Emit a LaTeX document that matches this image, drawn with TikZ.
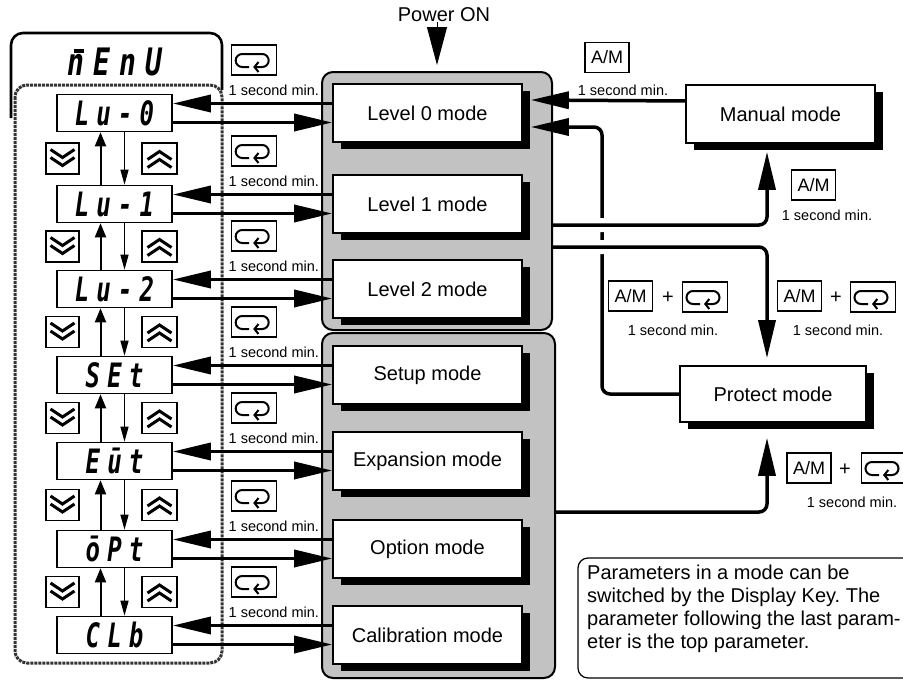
\documentclass[tikz,border=0pt]{standalone}
\usepackage{fontspec}
\setmainfont{Liberation Sans}
\newfontfamily\segfont[LetterSpace=30]{DejaVu Sans Mono}
\newfontfamily\menufont{DejaVu Sans Mono}
\usetikzlibrary{arrows.meta,shadows,calc}
\frenchspacing
\begin{document}
\begin{tikzpicture}[x=1pt, y=-1pt,
    every node/.style = {inner sep=0pt},
    modebox/.style = {draw, line width=1.6pt, fill=white,
      minimum width=189pt, minimum height=58pt, font=\fontsize{20}{24}\selectfont,
      general shadow={fill=black, shadow xshift=8pt, shadow yshift=-7pt}},
    group/.style = {draw, line width=2pt, rounded corners=11pt, fill=black!24},
    dotframe/.style = {draw=black!80, line width=3pt, densely dotted, rounded corners=12pt},
    disp/.style = {draw, line width=1.6pt, fill=white, minimum width=115pt, minimum height=37pt,
      font=\segfont\bfseries\itshape\fontsize{24}{24}\selectfont},
    amkey/.style = {draw, line width=1.2pt, minimum width=44pt, minimum height=30pt,
      font=\fontsize{18}{20}\selectfont},
    small/.style = {font=\fontsize{14.5}{17}\selectfont},
    plus/.style = {font=\fontsize{20}{24}\selectfont},
    big/.style = {line width=3.5pt, -{Triangle[length=38pt,width=17pt]}},
    pwr/.style = {line width=1pt, shorten >=6pt, -{Triangle[length=38pt,width=20pt]}},
    uparr/.style = {line width=2pt, -{Triangle[length=14pt,width=11pt]}},
    dnarr/.style = {line width=1.2pt, -{Triangle[length=15pt,width=8pt]}},
    hop/.style = {preaction={draw=white, line width=14pt, arrows=-, shorten <=14pt}},
    loopkey/.pic = {
      \draw[line width=1.2pt, fill=white] (-22.5,-15) rectangle (22.5,15);
      \draw[line width=2pt, -{Straight Barb[length=4pt,width=10pt]}]
        (-5,7) -- (-12,7) arc[start angle=90, end angle=270, radius=6.5]
        -- (8,-6) arc[start angle=-90, end angle=90, radius=6.5] -- (-1,7);
    },
    dnkey/.pic = {
      \draw[line width=1.2pt] (-16.5,-15.5) rectangle (16.5,15.5);
      \draw[line width=3pt] (-12,-9) -- (0,-1) -- (12,-9) (-12,-1) -- (0,7) -- (12,-1);
    },
    upkey/.pic = {
      \draw[line width=1.2pt] (-17.5,-15.5) rectangle (17.5,15.5);
      \draw[line width=3pt] (-12,9) -- (0,1) -- (12,9) (-12,1) -- (0,-7) -- (12,1);
    }]
  \useasboundingbox (0,0) rectangle (903,680);
  % menu panel
  \draw[line width=2.6pt, rounded corners=12pt] (11,118) -- (11,33) -- (222,33) -- (222,90);
  \draw[dotframe, fill=white] (15,85) rectangle (222,663);
  \node[font=\menufont\bfseries\itshape\fontsize{28}{28}\selectfont] (menu) at (115,62)
    {\scalebox{1}[1.35]{n\llap{\rule[17pt]{10pt}{3pt}\hspace{1pt}}\hspace{9pt}E\hspace{9pt}n\hspace{9pt}U}};
  % mode groups
  \node[group, minimum width=230pt, minimum height=258pt] (g1) at (437,201) {};
  \node[group, minimum width=233pt, minimum height=345pt] (g2) at (438.5,505.5) {};
  \node[plus] (power) at (444,15) {Power ON};
  \draw[pwr] (power.south -| g1.north) -- (g1.north);
  % rows
  \foreach \i/\y/\segtxt/\mtext in {0/113/Lu-0/Level 0 mode, 1/204/Lu-1/Level 1 mode,
      2/289/Lu-2/Level 2 mode, 3/375/SEt/Setup mode, 4/461/Eūt/Expansion mode,
      5/549/ōPt/Option mode, 6/635/CLb/Calibration mode} {
    \node[modebox] (m\i) at (427.5,\y) {\mtext};
    \node[disp] (d\i) at (114.5,\y) {\scalebox{1}[1.4]{\segtxt}};
    \draw[big] ($(m\i.west)+(0,-9.5)$) -- ($(d\i.east)+(0,-9.5)$);
    \draw[big] ($(d\i.east)+(0,9.5)$) -- ($(m\i.west)+(0,9.5)$);
    \node[small, anchor=east] (t\i) at ($(m\i.west)+(-13,-23)$) {1 second min.};
    \pic at ($(m\i.west)+(-78,-53)$) {loopkey};
  }
  \foreach \i [count=\j] in {0,...,5} {
    \draw[uparr] ($(d\j.north)+(-14,0)$) -- ($(d\i.south)+(-14,0)$);
    \draw[dnarr] ($(d\i.south)+(10,0)$) -- ($(d\j.north)+(10,0)$);
    \pic at ($(d\i)!0.5!(d\j)+(-52,0)$) {dnkey};
    \pic at ($(d\i)!0.5!(d\j)+(45,0)$) {upkey};
  }
  % manual and protect
  \node[modebox] (man) at (780.5,114) {Manual mode};
  \node[modebox, minimum width=186pt, minimum height=56pt] (prot) at (773,394) {Protect mode};
  \coordinate (r1) at (767,225);
  \coordinate (r2) at (767,247);
  \coordinate (r3) at (767,512);
  \coordinate (pt) at (602,127);
  \draw[big] ($(man.west)+(0,-13)$) -- ($(m0.east)+(8,-13)$);
  \draw[big, rounded corners=8pt] (prot.west) -- (prot.west -| pt) -- (pt) -- ($(m0.east |- pt)+(8,0)$);
  \draw[big, hop, rounded corners=8pt] (g1.east |- r1) -- (r1) -- ($(r1 |- man.south)+(0,8)$);
  \draw[big, hop, rounded corners=8pt] (g1.east |- r2) -- (r2) -- ($(r2 |- prot.north)+(0,-7)$);
  \draw[big, rounded corners=8pt] (g2.east |- r3) -- (r3) -- ($(r3 |- prot.south)+(0,15)$);
  % key labels
  \node[amkey] (am0) at (607,57.5) {A/M};
  \node[small] (t7) at (623,90) {1 second min.};
  \node[amkey] (am1) at (813.5,185) {A/M};
  \node[small] (t8) at (827,215) {1 second min.};
  \node[amkey] (am2) at (630.5,296) {A/M};
  \node[plus] (p2) at (668,298) {+};
  \pic at (705,297) {loopkey};
  \node[small] (t9) at (673,330) {1 second min.};
  \node[amkey] (am3) at (799.5,296) {A/M};
  \node[plus] (p3) at (836,298) {+};
  \pic at (873,297) {loopkey};
  \node[small] (t10) at (838,330) {1 second min.};
  \node[amkey] (am4) at (809,468) {A/M};
  \node[plus] (p4) at (845,470) {+};
  \pic at (884,468) {loopkey};
  \node[small] (t11) at (852,502) {1 second min.};
  % note
  \draw[line width=1.2pt, rounded corners=10pt] (578,558) rectangle (930,678);
  \node[anchor=north west, align=left, font=\fontsize{20}{23}\selectfont] (note) at (587,565)
    {Parameters in a mode can be\\switched by the Display Key. The\\parameter following the last param-\\eter is the top parameter.};
\end{tikzpicture}
\end{document}
